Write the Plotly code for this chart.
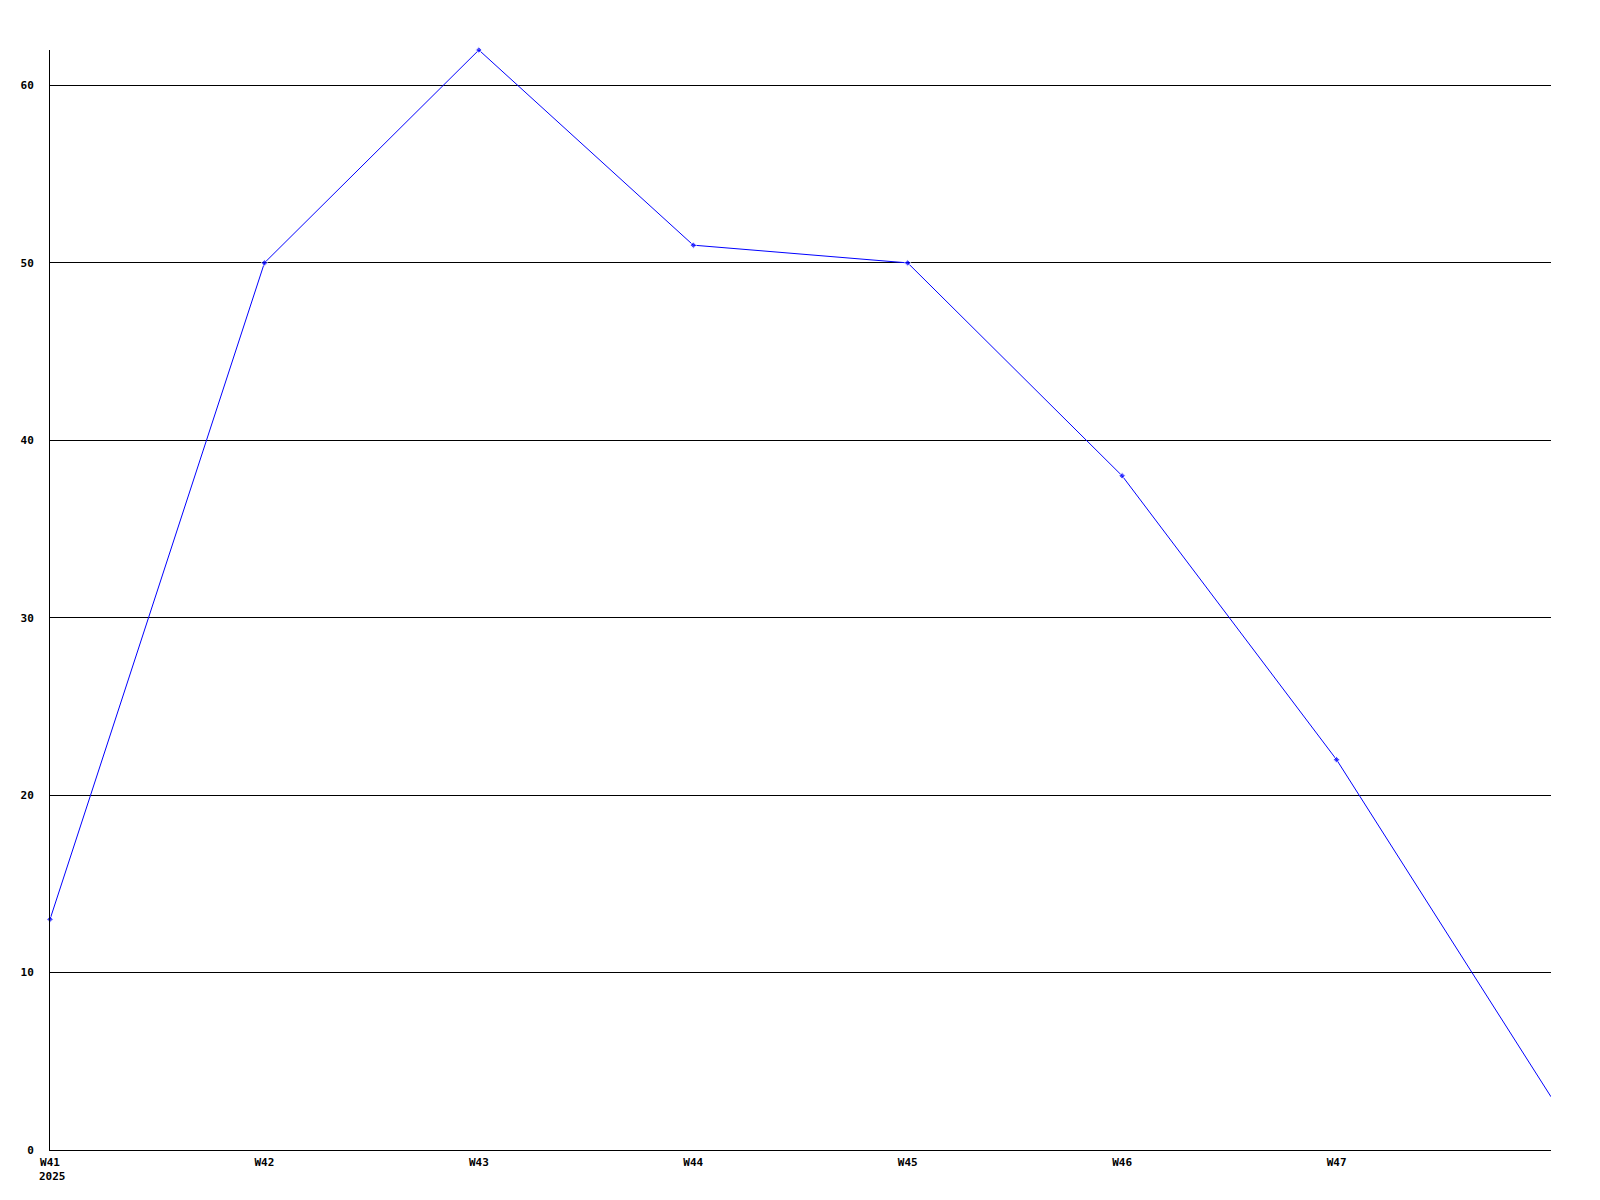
import plotly.graph_objects as go

weeks = ["W41", "W42", "W43", "W44", "W45", "W46", "W47", "W48"]
values = [13, 50, 62, 51, 50, 38, 22, 3]
tick_labels = ["W41", "W42", "W43", "W44", "W45", "W46", "W47"]
year_label = "2025"
y_ticks = [0, 10, 20, 30, 40, 50, 60]

x_pos = list(range(len(weeks)))
marker_sizes = [5] * (len(weeks) - 1) + [0]

fig = go.Figure()
fig.add_trace(go.Scatter(
    x=x_pos, y=values, mode="lines+markers",
    line=dict(color="#0000ff", width=1),
    marker=dict(color="#0000ff", size=marker_sizes, symbol="diamond"),
    cliponaxis=False,
    hoverinfo="skip",
))

font = dict(family="DejaVu Sans Mono", size=11, color="#000000", weight="bold")

# year label, left-aligned with the first week label
fig.add_annotation(
    x=x_pos[0], xref="x", y=0, yref="paper",
    text=year_label, showarrow=False, font=font,
    xanchor="left", yanchor="middle", xshift=-13, yshift=-26.5,
)

# page body has an 8px margin, so the figure is offset by 8px
fig.update_layout(
    width=1592, height=1192,
    margin=dict(l=42, r=49, t=42, b=50),
    paper_bgcolor="white", plot_bgcolor="white",
    showlegend=False,
    font=font,
    xaxis=dict(
        range=[0, 7], tickmode="array", tickvals=x_pos[:7], ticktext=tick_labels,
        showgrid=False, zeroline=False, showline=True, linecolor="black", linewidth=1,
        ticks="", tickfont=font, ticklabelstandoff=2, fixedrange=True,
    ),
    yaxis=dict(
        range=[0, 62], tickmode="array", tickvals=y_ticks,
        ticktext=[str(v) for v in y_ticks],
        showgrid=True, gridcolor="black", gridwidth=1, zeroline=False,
        showline=True, linecolor="black", linewidth=1,
        ticks="", tickfont=font, ticklabelstandoff=13, fixedrange=True,
    ),
)

fig.write_html("out.html")
